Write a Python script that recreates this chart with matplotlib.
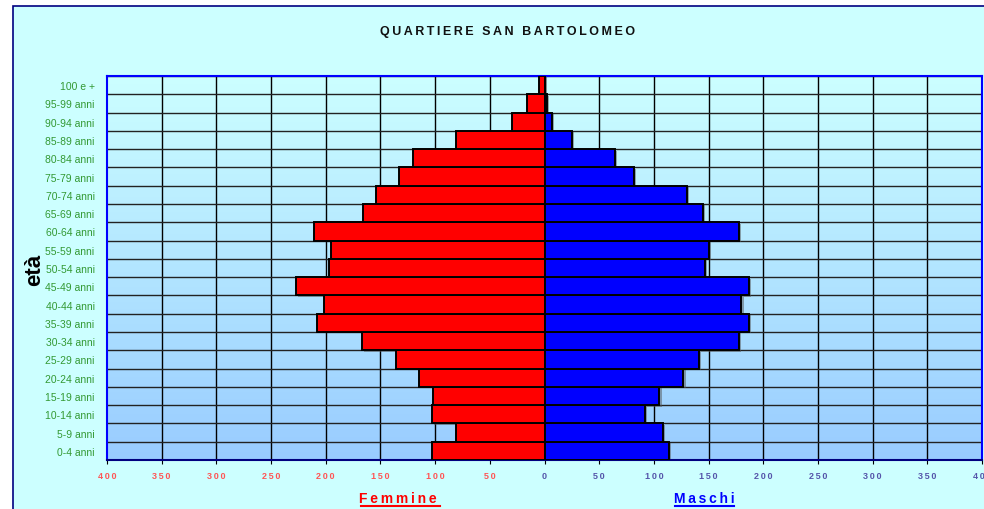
import numpy as np
import matplotlib.pyplot as plt
from matplotlib.patches import Rectangle

ages = ["0-4 anni", "5-9 anni", "10-14 anni", "15-19 anni", "20-24 anni",
        "25-29 anni", "30-34 anni", "35-39 anni", "40-44 anni", "45-49 anni",
        "50-54 anni", "55-59 anni", "60-64 anni", "65-69 anni", "70-74 anni",
        "75-79 anni", "80-84 anni", "85-89 anni", "90-94 anni", "95-99 anni",
        "100 e +"]
femmine = [103, 81, 103, 102, 115, 136, 167, 208, 202, 227,
           197, 195, 211, 166, 154, 133, 120, 81, 30, 16, 5]
maschi = [114, 108, 92, 105, 127, 141, 178, 187, 180, 187,
          147, 150, 178, 145, 130, 82, 64, 25, 7, 2, 0]
xticks = [-400, -350, -300, -250, -200, -150, -100, -50, 0,
          50, 100, 150, 200, 250, 300, 350, 400]

FONT = ["Liberation Sans", "DejaVu Sans"]
plt.rcParams["font.family"] = FONT


def spaced(s, sep="\u2009"):
    return sep.join(s)


fig = plt.figure(figsize=(9.84, 5.10), dpi=100)
fig.patch.set_facecolor("white")

# chart area frame
fig.patches.append(Rectangle((13 / 984, -0.05), 1.0, 1 - 7 / 510 + 0.05,
                             transform=fig.transFigure, facecolor="#CCFFFF",
                             edgecolor="#000080", linewidth=1.2, zorder=-5))

ax = fig.add_axes([107 / 984, 1 - 461 / 510, 875 / 984, 384 / 510])
y = np.arange(len(ages))

# gradient background
grad = np.linspace(0, 1, 256).reshape(-1, 1)
top = np.array([0xCC, 0xFF, 0xFF]) / 255
bot = np.array([0x99, 0xCC, 0xFF]) / 255
img = top + (bot - top) * grad[:, :, None] * np.ones((1, 1, 3))
ax.imshow(img, extent=[-400, 400, -0.5, len(ages) - 0.5], aspect="auto",
          origin="upper", zorder=0)

for v in xticks[1:-1]:
    ax.axvline(v, color="black", lw=1.0, zorder=1)
for k in range(len(ages)):
    ax.axhline(k + 0.5, color="#222222", lw=1.0, zorder=1)

# shadows
ax.barh(y - 0.08, [-v for v in femmine], height=1.0, left=2, color="#555555",
        alpha=0.5, zorder=2)
ax.barh(y - 0.08, maschi, height=1.0, left=2, color="#555555", alpha=0.5,
        zorder=2)
ax.barh(y, [-v for v in femmine], height=1.0, color="#FF0000",
        edgecolor="black", linewidth=1.4, zorder=3)
ax.barh(y, maschi, height=1.0, color="#0000FF", edgecolor="black",
        linewidth=1.4, zorder=3)

ax.set_xlim(-400, 400)
ax.set_ylim(-0.5, len(ages) - 0.5)
ax.set_xticks(xticks)
ax.set_xticklabels([spaced(str(abs(v))) for v in xticks], fontsize=6.5,
                   fontweight="bold")
for lab, v in zip(ax.get_xticklabels(), xticks):
    lab.set_color("#FF5555" if v < 0 else "#5555AA")
ax.set_yticks(y)
ax.set_yticklabels(ages, fontsize=7.5, color="#339933")
ax.tick_params(axis="y", length=0, pad=9)
ax.tick_params(axis="x", length=3, pad=5, color="black")

for s in ["left", "top", "right"]:
    ax.spines[s].set_color("#0000FF")
    ax.spines[s].set_linewidth(1.5)
ax.spines["bottom"].set_color("#000080")
ax.spines["bottom"].set_linewidth(1.5)

fig.text(508 / 984, 1 - 32 / 510, spaced("QUARTIERE SAN BARTOLOMEO"),
         ha="center", va="center", fontsize=9, fontweight="bold", color="#111111")
fig.text(35 / 984, 1 - 270 / 510, "età", rotation=90, ha="center", va="center",
         fontsize=16, fontweight="bold", color="black")
fig.text(398 / 984, 1 - 499 / 510, spaced("Femmine"), ha="center", va="center",
         fontsize=10, fontweight="bold", color="#FF0000")
fig.text(704 / 984, 1 - 499 / 510, spaced("Maschi"), ha="center", va="center",
         fontsize=10, fontweight="bold", color="#0000FF")
fig.lines.append(plt.Line2D([361 / 984, 440 / 984], [1 - 507 / 510] * 2,
                            transform=fig.transFigure, color="#FF0000", lw=1.5))
fig.lines.append(plt.Line2D([675 / 984, 734 / 984], [1 - 507 / 510] * 2,
                            transform=fig.transFigure, color="#0000FF", lw=1.5))

fig.savefig("out.png", dpi=100)
